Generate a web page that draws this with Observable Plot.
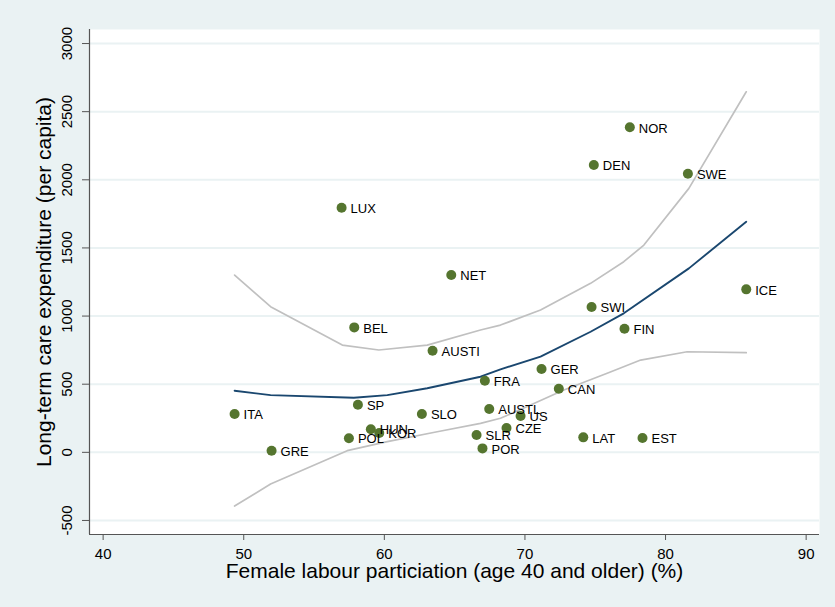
<!DOCTYPE html>
<html>
<head>
<meta charset="utf-8">
<script src="https://cdn.jsdelivr.net/npm/d3@7"></script>
<script src="https://cdn.jsdelivr.net/npm/@observablehq/plot@0.6"></script>
<style>
  html, body { margin: 0; padding: 0; background: #eaf2f3; }
</style>
</head>
<body>
<div id="chart"></div>
<script>
// Country observations
const countries = ["NOR","DEN","SWE","LUX","NET","ICE","SWI","FIN","BEL","AUSTI","GER","FRA","CAN","SP","ITA","AUSTL","SLO","US","CZE","HUN","KOR","SLR","LAT","POL","EST","POR","GRE"];
const femaleLabour = [77.46,74.90,81.59,56.96,64.76,85.74,74.74,77.08,57.86,63.43,71.18,67.15,72.41,58.12,49.35,67.46,62.67,69.69,68.69,59.04,59.64,66.56,74.15,57.48,78.36,66.98,51.98];
const ltcExpenditure = [2385,2108,2045,1795,1301,1196,1066,907,917,746,611,525,467,349,281,318,281,266,178,169,142,127,110,103,105,29,12];

// Fitted line and confidence band
const fitX = [49.35,51.91,57.83,60.21,63.05,66.84,68.26,71.11,74.67,77.03,81.66,85.74];
const fitY = [452,420,401,420,470,555,609,702,885,1020,1350,1692];
const upperX = [49.35,51.91,57.01,59.61,63.05,66.84,68.26,71.11,74.67,77.03,78.46,81.66,85.74];
const upperY = [1301,1069,787,751,787,898,934,1044,1240,1399,1521,1937,2646];
const lowerX = [49.35,51.91,57.36,60.21,63.76,66.84,68.26,70.4,72.77,75.85,78.23,81.54,85.74];
const lowerY = [-394,-233,12,78,151,213,250,347,457,580,677,738,731];

// Axis ticks
const xTicks = [40,50,60,70,80,90];
const yTicks = [-500,0,500,1000,1500,2000,2500,3000];
const xTitle = "Female labour particiation (age 40 and older) (%)";
const yTitle = "Long-term care expenditure (per capita)";

const points = countries.map((c, i) => ({country: c, x: femaleLabour[i], y: ltcExpenditure[i]}));
const fit = fitX.map((x, i) => ({x, y: fitY[i]}));
const upper = upperX.map((x, i) => ({x, y: upperY[i]}));
const lower = lowerX.map((x, i) => ({x, y: lowerY[i]}));

const xDomain = [39.03, 90.95];
const yDomain = [-603, 3103];
const bg = "#eaf2f3";
const axisColor = "#555555";
const font = "'Liberation Sans', Arial, Helvetica, sans-serif";

const chart = Plot.plot({
  width: 835,
  height: 607,
  marginLeft: 89,
  marginRight: 16,
  marginTop: 29,
  marginBottom: 73,
  style: { background: bg, fontFamily: font, color: "#000" },
  x: { domain: xDomain, axis: null },
  y: { domain: yDomain, axis: null },
  marks: [
    Plot.frame({ fill: "white", stroke: null }),
    Plot.gridY(yTicks, { stroke: bg, strokeOpacity: 1, strokeWidth: 2 }),
    // axis lines
    Plot.ruleX([xDomain[0]], { stroke: axisColor, strokeWidth: 1.2 }),
    Plot.ruleY([yDomain[0]], { stroke: axisColor, strokeWidth: 1.2 }),
    // tick marks
    Plot.axisY({ ticks: yTicks, tickSize: 7, tickFormat: () => "", stroke: axisColor, label: null }),
    Plot.axisX({ ticks: xTicks, tickSize: 6, tickFormat: () => "", stroke: axisColor, label: null }),
    // tick labels
    Plot.text(yTicks, { y: d => d, text: d => String(d), frameAnchor: "left", textAnchor: "middle", dx: -22, rotate: -90, fontSize: 15, fill: "#000" }),
    Plot.text(xTicks, { x: d => d, text: d => String(d), frameAnchor: "bottom", textAnchor: "middle", dy: 24, fontSize: 15, fill: "#000" }),
    // axis titles
    Plot.text([yTitle], { text: d => d, frameAnchor: "left", textAnchor: "middle", dx: -45, rotate: -90, fontSize: 21, fill: "#000" }),
    Plot.text([xTitle], { text: d => d, frameAnchor: "bottom", textAnchor: "middle", dy: 43, fontSize: 21, fill: "#000" }),
    // confidence band and fit
    Plot.line(upper, { x: "x", y: "y", stroke: "#c0c0c0", strokeWidth: 1.7 }),
    Plot.line(lower, { x: "x", y: "y", stroke: "#c0c0c0", strokeWidth: 1.7 }),
    Plot.line(fit, { x: "x", y: "y", stroke: "#1a476f", strokeWidth: 1.9 }),
    // points and labels
    Plot.dot(points, { x: "x", y: "y", r: 5, fill: "#55752f", stroke: null }),
    Plot.text(points, { x: "x", y: "y", text: "country", textAnchor: "start", dx: 9, dy: 1, fontSize: 13, fill: "#000" })
  ]
});
document.getElementById("chart").appendChild(chart);
</script>
</body>
</html>
